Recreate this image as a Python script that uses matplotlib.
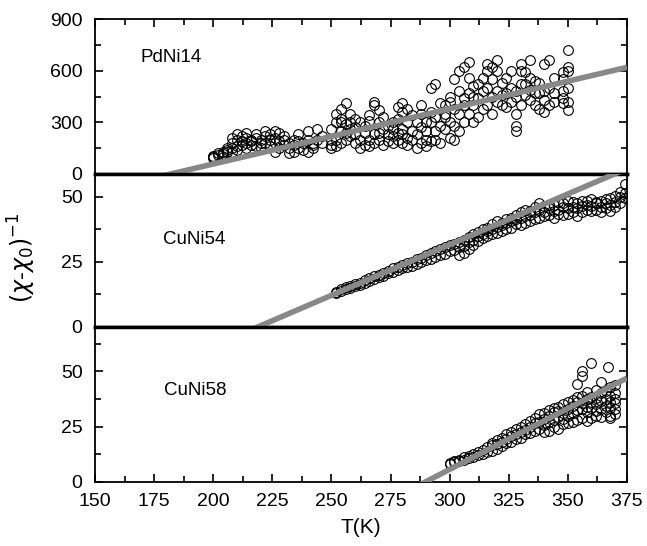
import numpy as np
import matplotlib
matplotlib.use('Agg')
import matplotlib.pyplot as plt
from matplotlib.ticker import MultipleLocator

plt.rcParams['font.family'] = ['Liberation Sans', 'DejaVu Sans']
plt.rcParams['mathtext.fontset'] = 'dejavusans'

# PdNi14 (top)
t_pd = [200, 200, 200, 202, 202, 204, 204, 204, 206, 206, 206, 208, 208, 208, 208,
        210, 210, 210, 210, 212, 212, 212, 214, 214, 214, 214, 216, 216, 216,
        218, 218, 218, 220, 220, 220, 222, 222, 222, 224, 224, 224, 226, 226, 226, 226,
        228, 228, 228, 230, 230, 230, 232, 232, 232, 234, 234, 234, 236, 236, 236,
        238, 238, 240, 240, 240, 242, 242, 242, 244, 244, 246, 246,
        250, 250, 250, 250, 252, 252, 252, 252, 254, 254, 254, 254, 254,
        256, 256, 256, 256, 258, 258, 258, 258, 260, 260, 260, 260, 262, 262, 262,
        264, 264, 264, 266, 266, 266, 266, 268, 268, 268, 268, 270, 270, 270, 270,
        272, 272, 272, 274, 274, 274, 276, 276, 276, 276, 278, 278, 278, 278,
        280, 280, 280, 280, 280, 282, 282, 282, 282, 284, 284, 284, 286, 286, 286,
        288, 288, 288, 288, 290, 290, 290, 290, 292, 292, 292, 292, 294, 294, 294, 294,
        296, 296, 296, 298, 298, 298, 298, 300, 300, 300, 300, 302, 302, 302, 302,
        304, 304, 304, 304, 306, 306, 306, 306, 308, 308, 308, 308, 310, 310, 310, 310,
        312, 312, 312, 314, 314, 314, 316, 316, 316, 316, 318, 318, 318, 318,
        320, 320, 320, 320, 322, 322, 322, 324, 324, 324, 326, 326, 326,
        328, 328, 328, 328, 328, 330, 330, 330, 330, 332, 332, 332, 334, 334, 334, 334,
        336, 336, 336, 338, 338, 338, 340, 340, 340, 340, 342, 342, 342, 344, 344, 344,
        348, 348, 348, 348, 348, 350, 350, 350, 350, 350, 350]
chi_pd = [100, 105, 95, 110, 120, 115, 130, 100, 125, 140, 150, 150, 130, 210, 180,
          160, 200, 230, 140, 170, 190, 220, 150, 180, 210, 240, 170, 200, 190,
          160, 230, 210, 150, 180, 200, 220, 250, 180, 160, 200, 230, 130, 180, 250, 210,
          150, 190, 240, 170, 220, 200, 120, 150, 180, 130, 170, 200, 150, 190, 230,
          140, 180, 130, 200, 250, 150, 180, 170, 200, 260, 180, 220,
          150, 170, 200, 260, 160, 200, 300, 350, 180, 250, 380, 300, 320,
          200, 240, 290, 410, 220, 260, 300, 350, 180, 230, 270, 320, 150, 200, 300,
          170, 240, 280, 160, 200, 340, 310, 180, 230, 400, 420, 200, 240, 300, 370,
          170, 260, 330, 190, 230, 280, 180, 220, 300, 260, 200, 240, 320, 390,
          180, 230, 260, 410, 360, 170, 210, 300, 380, 200, 250, 340, 150, 230, 300,
          180, 270, 350, 400, 160, 200, 250, 300, 190, 300, 360, 500, 200, 250, 330, 520,
          180, 280, 410, 260, 330, 400, 350, 210, 300, 420, 450, 200, 280, 380, 550,
          250, 350, 600, 480, 300, 400, 440, 620, 350, 470, 560, 650, 300, 400, 450, 510,
          330, 440, 520, 380, 480, 560, 400, 500, 600, 640, 350, 450, 550, 620,
          420, 480, 600, 660, 400, 460, 530, 390, 470, 560, 420, 500, 600,
          250, 280, 350, 450, 480, 400, 520, 600, 640, 460, 520, 590, 430, 490, 560, 660,
          400, 470, 540, 380, 470, 530, 360, 430, 480, 640, 400, 500, 660, 420, 470, 560,
          410, 440, 480, 550, 590, 370, 420, 500, 600, 620, 720]

# CuNi54 (middle)
t_54 = [252, 252, 254, 254, 256, 256, 258, 258, 260, 260, 262, 262, 264, 264,
        266, 266, 268, 268, 270, 270, 272, 272, 274, 274, 276, 276, 278, 278,
        280, 280, 282, 282, 284, 284, 286, 286, 288, 288, 290, 290, 292, 292,
        294, 294, 296, 296, 298, 298, 300, 300, 302, 302,
        304, 304, 304, 306, 306, 306, 308, 308, 308, 310, 310, 310, 312, 312, 312,
        314, 314, 314, 316, 316, 316, 318, 318, 318, 320, 320, 320, 322, 322, 322,
        324, 324, 324, 326, 326, 326, 328, 328, 328, 330, 330, 330, 332, 332, 332,
        334, 334, 334, 336, 336, 336, 338, 338, 338, 340, 340, 340, 342, 342, 342,
        344, 344, 344, 346, 346, 346, 348, 348, 348, 350, 350, 350, 352, 352, 352,
        354, 354, 354, 356, 356, 356, 358, 358, 358, 360, 360, 360, 362, 362, 362,
        364, 364, 364, 366, 366, 366, 368, 368, 368, 370, 370, 370, 372, 372, 372,
        374, 374, 374]
chi_54 = [13.0, 13.5, 13.8, 14.5, 14.5, 15.2, 15.0, 15.8, 15.8, 16.5, 16.2, 17.0, 17.0, 17.8,
          17.5, 18.6, 18.2, 19.5, 19.0, 20.0, 19.5, 20.8, 20.5, 21.5, 21.0, 22.5, 21.8, 23.0,
          22.5, 23.8, 22.8, 24.5, 23.5, 25.0, 24.2, 26.0, 25.0, 26.5, 25.8, 27.5, 26.0, 28.5,
          27.0, 29.0, 27.5, 29.8, 28.0, 30.5, 29.0, 31.5, 29.5, 32.0,
          27.5, 30.5, 32.8, 28.5, 31.0, 33.5, 30.0, 32.5, 34.5, 31.5, 33.5, 35.5, 33.0, 35.0, 36.5,
          34.0, 35.5, 37.5, 35.0, 37.0, 38.0, 35.5, 37.5, 39.5, 36.0, 38.5, 40.5, 37.0, 39.0, 40.0,
          37.5, 40.0, 41.5, 38.0, 40.5, 42.0, 39.5, 41.5, 43.0, 39.0, 42.0, 44.0, 40.0, 42.5, 45.0,
          40.5, 43.0, 44.5, 41.5, 44.0, 46.0, 42.0, 45.0, 47.5, 42.5, 44.0, 46.5, 43.0, 45.5, 47.0,
          42.0, 44.5, 47.0, 43.5, 45.0, 48.0, 43.0, 46.0, 47.5, 43.5, 45.5, 48.5, 44.0, 46.0, 48.0,
          42.5, 45.5, 47.5, 44.0, 46.5, 48.5, 45.0, 47.0, 48.5, 44.5, 46.5, 49.0, 45.0, 47.5, 48.0,
          44.0, 46.0, 48.5, 45.5, 47.5, 49.0, 44.5, 47.0, 49.5, 46.0, 48.0, 50.5, 47.5, 50.0, 52.0,
          49.5, 51.5, 55.0]

# CuNi58 (bottom)
t_58 = [300, 300, 302, 302, 304, 304, 306, 306, 308, 308, 310, 310, 312, 312, 314, 314,
        316, 316, 318, 318, 318, 320, 320, 320, 322, 322, 322, 324, 324, 324,
        326, 326, 326, 328, 328, 328, 330, 330, 330, 332, 332, 332, 334, 334, 334,
        336, 336, 336, 338, 338, 338, 340, 340, 340, 340, 342, 342, 342, 342,
        344, 344, 344, 344, 346, 346, 346, 346, 348, 348, 348, 348, 350, 350, 350, 350,
        352, 352, 352, 352, 354, 354, 354, 354, 354, 356, 356, 356, 356, 356, 356,
        358, 358, 358, 358, 358, 360, 360, 360, 360, 360, 362, 362, 362, 362, 362,
        364, 364, 364, 364, 364, 366, 366, 366, 366, 367, 368, 368, 368, 368, 368, 368,
        370, 370, 370, 370, 370, 370]
chi_58 = [8.5, 8.0, 9.0, 9.5, 9.5, 10.0, 10.0, 11.0, 10.5, 11.5, 11.0, 12.5, 12.0, 13.5, 12.5, 14.5,
          13.5, 15.5, 14.0, 16.5, 17.5, 15.0, 17.0, 19.0, 16.0, 18.0, 20.0, 17.5, 19.5, 21.5,
          18.0, 20.5, 22.5, 19.5, 21.5, 24.0, 20.0, 22.5, 25.0, 21.5, 23.5, 26.0, 22.0, 25.0, 27.5,
          23.0, 26.5, 29.0, 24.0, 27.0, 30.5, 22.5, 25.5, 28.5, 31.0, 23.0, 27.0, 30.0, 32.5,
          25.0, 28.0, 31.5, 33.5, 24.0, 29.5, 32.0, 34.0, 26.0, 28.5, 31.0, 35.0, 26.5, 30.0, 33.0, 36.0,
          27.0, 31.0, 34.5, 37.0, 28.0, 32.5, 36.0, 38.5, 44.5, 29.0, 33.0, 35.5, 39.0, 48.0, 50.0,
          27.5, 31.5, 34.0, 37.5, 40.5, 29.0, 33.5, 36.0, 38.5, 54.0, 30.0, 32.0, 35.0, 38.0, 41.5,
          29.5, 33.0, 36.5, 40.0, 45.0, 31.5, 34.5, 37.5, 41.0, 52.0, 29.0, 30.0, 33.5, 36.0, 39.0, 43.0,
          30.5, 33.0, 35.5, 37.5, 40.0, 44.0]

# Curie-Weiss fits: T where line hits zero, slope
fit_t0 = [182, 219, 290]
fit_slope = [3.21, 0.39, 0.553]

labels = ['PdNi14', 'CuNi54', 'CuNi58']
ylims = [(0, 900), (0, 58.8), (0, 70.3)]
ymajor = [300, 25, 25]
yminor = [150, 12.5, 12.5]
label_pos = [(0.085, 0.755), (0.128, 0.57), (0.13, 0.59)]

fig = plt.figure(figsize=(6.47, 5.46), dpi=100)
gs = fig.add_gridspec(3, 1, left=0.147, right=0.969, bottom=0.118, top=0.965,
                      hspace=0, height_ratios=[155, 153, 155])
axes = [fig.add_subplot(gs[i]) for i in range(3)]
data = [(t_pd, chi_pd), (t_54, chi_54), (t_58, chi_58)]

for i, ax in enumerate(axes):
    t, c = data[i]
    ax.plot(t, c, 'o', mfc='none', mec='black', ms=7, mew=0.8, zorder=2)
    tt = np.array([150, 375])
    ax.plot(tt, fit_slope[i] * (tt - fit_t0[i]), color='#888888', lw=4, zorder=3,
            solid_capstyle='butt')
    ax.set_xlim(150, 375)
    ax.set_ylim(*ylims[i])
    ax.xaxis.set_major_locator(MultipleLocator(25))
    ax.xaxis.set_minor_locator(MultipleLocator(12.5))
    ax.yaxis.set_major_locator(MultipleLocator(ymajor[i]))
    ax.yaxis.set_minor_locator(MultipleLocator(yminor[i]))
    ax.tick_params(which='both', direction='in', labelsize=14, right=True,
                   top=(i == 0), bottom=(i == 2), labelbottom=(i == 2), width=1.2)
    ax.tick_params(which='major', length=6)
    ax.tick_params(which='minor', length=4)
    ax.tick_params(axis='y', pad=9)
    ax.tick_params(axis='x', pad=8)
    for s in ax.spines.values():
        s.set_linewidth(1.3)
    ax.text(label_pos[i][0], label_pos[i][1], labels[i], transform=ax.transAxes,
            fontsize=13.5, va='center', ha='left')

axes[0].spines['bottom'].set_linewidth(2.5)
axes[1].spines['top'].set_linewidth(2.5)
axes[1].spines['bottom'].set_linewidth(2.5)
axes[2].spines['top'].set_linewidth(2.5)

axes[2].set_xlabel('T(K)', fontsize=15, labelpad=6)
fig.text(0.034, 0.527, r'$(\chi$-$\chi_0)^{-1}$', rotation=90, fontsize=17,
         ha='center', va='center')

fig.savefig('out.png', dpi=100)
